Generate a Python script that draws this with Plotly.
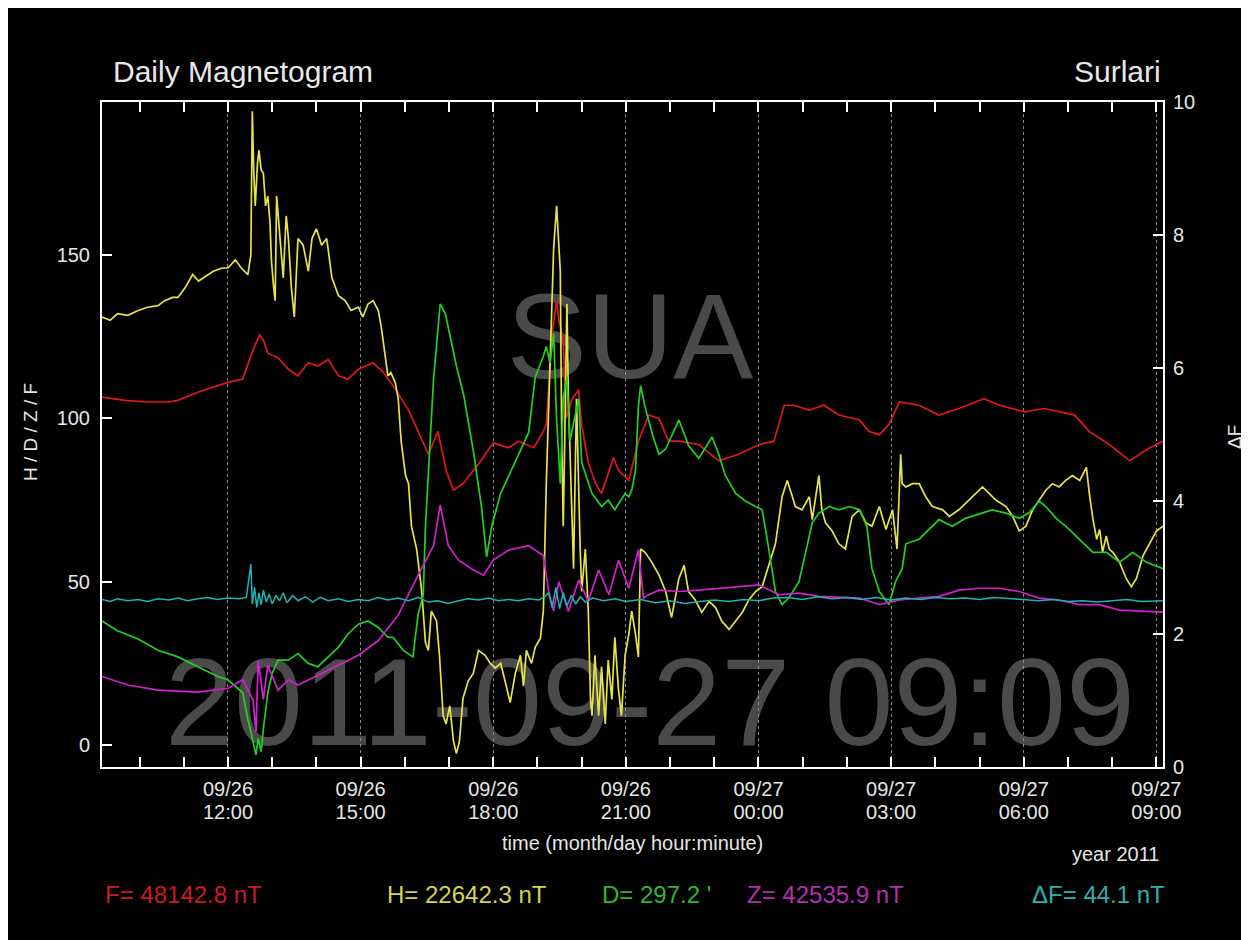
import datetime as dt
import plotly.graph_objects as go

# ---------------- data (time = minutes after 2011-09-26 00:00) ----------------
F_t = [549, 580, 611, 640, 652, 679, 706, 720, 740, 754, 763, 768, 774, 788, 802, 815, 829, 842, 856, 870,
       883, 897, 917, 931, 944, 965, 980, 992, 1005, 1016, 1026, 1039, 1060, 1080, 1101, 1114, 1135, 1148,
       1152, 1160, 1166, 1169, 1175, 1179, 1187, 1196, 1200, 1209, 1219, 1227, 1236, 1243, 1250, 1264, 1277,
       1291, 1305, 1318, 1332, 1359, 1386, 1413, 1441, 1461, 1475, 1488, 1509, 1529, 1549, 1577, 1590, 1604,
       1617, 1631, 1658, 1685, 1712, 1746, 1767, 1801, 1828, 1848, 1869, 1889, 1916, 1944, 1971, 1989]
F_v = [106.5, 105.5, 105, 105, 105.5, 108, 110, 111, 112, 121, 125.5, 124, 120, 118.5, 115, 113, 117, 116,
       118, 113, 112, 115, 117, 114, 110, 102.5, 95, 89, 96, 84, 78, 80, 86, 92.5, 91, 93, 91, 96,
       98, 126, 136, 130, 124, 100, 106, 108.7, 98, 86.5, 80, 77, 83, 88, 84, 81, 93,
       101, 100, 93, 93, 92, 87, 89, 92, 93, 104, 104, 102.5, 104, 101, 99.5, 96, 95,
       98, 105, 104, 101, 103, 106, 104, 102, 103, 102, 101, 96, 92, 87, 91, 93]

H_t = [549, 560, 570, 584, 598, 611, 625, 634, 645, 652, 662, 672, 680, 690, 700, 712, 720, 724, 730, 738,
       747, 751, 753, 755, 757, 760, 762, 765, 768, 771, 774, 777, 779, 782, 784, 786, 790, 795, 799, 802,
       806, 810, 815, 822, 829, 834, 840, 847, 854, 861, 870, 879, 887, 897, 903, 910, 917, 924, 928, 933,
       937, 941, 947, 951, 955, 961, 965, 969, 976, 983, 988, 992, 996, 1003, 1007, 1012, 1016, 1021, 1026,
       1030, 1034, 1039, 1046, 1053, 1060, 1069, 1076, 1083, 1090, 1096, 1103, 1110, 1117, 1121, 1125, 1132,
       1137, 1144, 1148, 1152, 1157, 1162, 1166, 1171, 1173, 1175, 1177, 1180, 1182, 1187, 1189, 1191, 1193,
       1198, 1200, 1205, 1209, 1212, 1214, 1218, 1223, 1227, 1232, 1236, 1241, 1245, 1250, 1254, 1259, 1264,
       1268, 1273, 1277, 1280, 1286, 1295, 1305, 1314, 1322, 1332, 1339, 1345, 1354, 1363, 1373, 1382, 1390,
       1400, 1409, 1418, 1427, 1436, 1445, 1454, 1463, 1472, 1479, 1486, 1490, 1499, 1509, 1513, 1522, 1526,
       1531, 1540, 1549, 1558, 1567, 1577, 1586, 1594, 1604, 1613, 1622, 1628, 1633, 1635, 1640, 1649, 1658,
       1667, 1676, 1690, 1699, 1712, 1726, 1735, 1744, 1753, 1762, 1776, 1785, 1794, 1803, 1812, 1821, 1830,
       1839, 1848, 1857, 1866, 1876, 1885, 1889, 1894, 1899, 1903, 1907, 1912, 1916, 1921, 1930, 1934, 1939,
       1946, 1953, 1962, 1971, 1980, 1989]
H_v = [131, 130, 132, 131.5, 133, 134, 134.5, 136, 137, 137, 140, 144, 142, 143.5, 145, 146, 146, 147, 148.5, 146,
       144, 150, 194, 175, 165, 178, 182, 176, 175, 165, 168, 160, 148, 140, 136, 168, 158, 143, 162, 155,
       140, 131, 155, 153, 145, 155, 158, 153, 155, 143, 137.5, 136, 133, 134, 131, 135, 136, 133, 128, 119,
       113, 114, 111, 106, 93, 82.5, 80, 67, 60, 47, 31.4, 29, 41, 38, 27.5, 9, 6.5, 12, 1.3,
       -2.6, 1, 14.4, 19.6, 22, 29, 27.5, 25, 23.6, 25, 19.6, 13, 22, 27.5, 18, 29, 25,
       30, 32.7, 41, 80, 119, 152, 165, 145, 93, 67, 93, 135, 106, 67, 54, 80, 106,
       60, 47, 60, 41, 14, 9, 27.5, 9, 24, 6.5, 26, 14, 33, 17, 9, 27.5, 34,
       41, 34, 27, 60, 59, 56, 52, 47, 39, 51, 55, 47, 44.5, 40.6, 44, 42, 38,
       35.4, 38, 40.6, 44.5, 47, 48.5, 55, 61.6, 76, 81, 76, 73, 72, 76, 69, 82.5, 72,
       68, 65.5, 61.6, 60, 70, 72, 68, 67, 73, 66, 72, 60, 89, 80, 79, 80, 80,
       76, 73, 72, 70, 72, 75, 77, 79, 77, 75, 73, 70, 65.5, 67, 72, 75, 78,
       80, 79, 81, 82.5, 81, 85, 77, 69, 63, 66, 59, 64, 60, 59, 56, 54, 51,
       48.5, 51, 58, 61.6, 65.5, 67]

D_t = [549, 570, 598, 625, 652, 679, 706, 720, 740, 747, 754, 758, 761, 765, 768, 774, 780, 788, 802, 815,
       829, 842, 856, 870, 883, 897, 910, 924, 937, 944, 958, 971, 978, 985, 988, 999, 1008, 1015, 1030, 1040,
       1053, 1064, 1071, 1078, 1090, 1101, 1114, 1128, 1137, 1148, 1152, 1157, 1162, 1166, 1171, 1175, 1180,
       1184, 1196, 1200, 1214, 1227, 1236, 1245, 1259, 1264, 1268, 1273, 1277, 1280, 1286, 1297, 1305, 1314,
       1332, 1345, 1359, 1377, 1386, 1395, 1409, 1422, 1436, 1445, 1454, 1463, 1472, 1481, 1495, 1504, 1513,
       1522, 1536, 1549, 1563, 1577, 1587, 1594, 1604, 1617, 1626, 1635, 1640, 1658, 1676, 1685, 1703, 1721,
       1739, 1757, 1776, 1794, 1807, 1821, 1830, 1844, 1857, 1876, 1894, 1912, 1930, 1948, 1966, 1989]
D_v = [38, 35, 32.5, 29, 27, 24, 21, 20, 16, 8, 1, -3, 2, -2, 5, 16, 22, 26, 26, 28,
       25, 24, 27, 30, 34, 37, 38, 36, 33, 33, 29, 27, 40, 46, 67, 112, 135, 132, 116, 107,
       90, 73, 57.6, 67, 77, 82.5, 89, 95.6, 112.6, 119, 122, 117, 126, 99.5, 80, 106, 112.6,
       93, 106, 86.5, 77, 73, 75, 72, 77, 76, 78, 84, 103.5, 110, 103.5, 94.3, 89, 90.6,
       99.5, 91.7, 87.8, 94.3, 89, 82.5, 77, 74.7, 73, 72, 60, 47, 43, 45, 50, 59, 68,
       71, 73, 72, 73, 72, 67, 54, 47, 43, 50, 54, 61.6, 63, 67, 69, 67, 69.4,
       70.7, 72, 71, 69.4, 71, 74.7, 73, 69.4, 67, 63, 59, 59, 56, 59, 56, 54]

Z_t = [549, 584, 625, 679, 720, 740, 754, 758, 761, 768, 774, 788, 802, 815, 842, 870, 897, 924, 951, 978,
       999, 1008, 1019, 1033, 1053, 1067, 1080, 1101, 1128, 1148, 1155, 1162, 1169, 1182, 1196, 1209, 1223,
       1237, 1250, 1264, 1277, 1284, 1291, 1305, 1332, 1359, 1386, 1413, 1441, 1468, 1495, 1522, 1549, 1577,
       1604, 1631, 1658, 1685, 1712, 1740, 1767, 1794, 1821, 1848, 1876, 1903, 1930, 1957, 1989]
Z_v = [21, 18.4, 16.8, 16.2, 17.4, 20, 13.8, 4, 26, 14, 24.5, 16.8, 20, 18.4, 21.4, 24.5, 27.5, 32, 39.8, 52,
       61, 73.5, 61, 56.6, 53.6, 52, 56.6, 59.7, 61, 58, 47.4, 41, 50, 41, 50.5, 44, 53.6,
       46, 56.6, 48, 59.7, 45, 46, 47.4, 47, 47.4, 48, 48.5, 49, 46, 46.5, 45.5, 45.3, 45,
       43, 44.4, 45, 45.5, 47.4, 48, 48, 47, 45, 44.4, 43, 43, 41.3, 41, 40.7]

dF_t = [549, 560, 570, 584, 598, 611, 625, 640, 652, 665, 679, 692, 706, 720, 735, 745, 751, 753, 756, 759,
        762, 765, 768, 772, 776, 780, 785, 790, 795, 800, 808, 815, 825, 835, 845, 856, 870, 883, 897, 910,
        924, 937, 951, 965, 978, 992, 1005, 1019, 1033, 1046, 1060, 1074, 1087, 1101, 1114, 1128, 1142, 1150,
        1155, 1160, 1165, 1170, 1175, 1180, 1186, 1192, 1198, 1205, 1215, 1230, 1245, 1260, 1280, 1300, 1320,
        1340, 1360, 1380, 1400, 1420, 1440, 1460, 1480, 1500, 1520, 1540, 1560, 1580, 1600, 1620, 1640, 1660,
        1680, 1700, 1720, 1740, 1760, 1780, 1800, 1820, 1840, 1860, 1880, 1900, 1920, 1940, 1960, 1989]
dF_v = [2.52, 2.49, 2.53, 2.50, 2.52, 2.49, 2.53, 2.51, 2.54, 2.50, 2.53, 2.55, 2.52, 2.54, 2.53, 2.55, 3.05,
        2.45, 2.70, 2.40, 2.62, 2.44, 2.66, 2.48, 2.60, 2.45, 2.58, 2.50, 2.62, 2.47, 2.58, 2.50, 2.56, 2.48,
        2.55, 2.50, 2.53, 2.49, 2.52, 2.50, 2.55, 2.51, 2.54, 2.50, 2.55, 2.48, 2.50, 2.46, 2.50, 2.53, 2.51,
        2.54, 2.50, 2.52, 2.50, 2.53, 2.51, 2.56, 2.62, 2.40, 2.70, 2.38, 2.62, 2.42, 2.58, 2.45, 2.56, 2.48,
        2.54, 2.50, 2.53, 2.49, 2.52, 2.47, 2.50, 2.46, 2.49, 2.51, 2.49, 2.52, 2.50, 2.54, 2.55, 2.52, 2.56,
        2.53, 2.55, 2.52, 2.55, 2.51, 2.54, 2.52, 2.55, 2.53, 2.54, 2.52, 2.55, 2.53, 2.51, 2.50, 2.52, 2.49,
        2.50, 2.48, 2.50, 2.52, 2.49, 2.50]

tick_times = ["2011-09-26 12:00", "2011-09-26 15:00", "2011-09-26 18:00", "2011-09-26 21:00",
              "2011-09-27 00:00", "2011-09-27 03:00", "2011-09-27 06:00", "2011-09-27 09:00"]
tick_dates = ["09/26", "09/26", "09/26", "09/26", "09/27", "09/27", "09/27", "09/27"]
tick_hours = ["12:00", "15:00", "18:00", "21:00", "00:00", "03:00", "06:00", "09:00"]
x_range = ["2011-09-26 09:09", "2011-09-27 09:09"]
y_range = [-6.7, 196.8]
y2_range = [0, 10]
legend_texts = ["F= 48142.8 nT", "H= 22642.3 nT", "D= 297.2 '", "Z= 42535.9 nT", "ΔF= 44.1 nT"]

base = dt.datetime(2011, 9, 26)


def to_time(mins):
    return [base + dt.timedelta(minutes=m) for m in mins]


FONT = "Liberation Sans"
C_F, C_H, C_D, C_Z, C_dF = "#e01818", "#e6e44a", "#22d022", "#d020d0", "#1fb4b4"

fig = go.Figure()
fig.add_trace(go.Scatter(x=to_time(F_t), y=F_v, mode="lines", line=dict(color=C_F, width=1.7)))
fig.add_trace(go.Scatter(x=to_time(H_t), y=H_v, mode="lines", line=dict(color=C_H, width=1.7)))
fig.add_trace(go.Scatter(x=to_time(D_t), y=D_v, mode="lines", line=dict(color=C_D, width=1.7)))
fig.add_trace(go.Scatter(x=to_time(Z_t), y=Z_v, mode="lines", line=dict(color=C_Z, width=1.7)))
fig.add_trace(go.Scatter(x=to_time(dF_t), y=dF_v, mode="lines", line=dict(color=C_dF, width=1.5),
                         yaxis="y2"))

# the page body adds an 8px margin; figure sized to fill the rest of the window
OFF = 8
W, H = 1249 - OFF, 940 - OFF
PL, PR, PT, PB = 102, 1163, 102, 767          # plot area in window pixels
L, T = PL - OFF, PT - OFF
R, B = 1249 - PR, 940 - PB
pw, ph = PR - PL, PB - PT


def px(x):
    return (x - PL) / pw


def py(y):
    return (PB - y) / ph


tickfont = dict(family=FONT, size=20, color="#e6e6e6")

fig.update_layout(
    width=W, height=H,
    margin=dict(l=L, r=R, t=T, b=B, autoexpand=False),
    paper_bgcolor="black", plot_bgcolor="black",
    showlegend=False,
    xaxis=dict(type="date", range=x_range, tickmode="array", tickvals=tick_times, ticktext=tick_dates,
               ticks="inside", ticklen=10, tickcolor="white", tickwidth=1.5,
               showline=True, linecolor="white", linewidth=2, mirror="allticks",
               showgrid=True, gridcolor="#8a8a8a", griddash="dot", gridwidth=1,
               tickfont=tickfont, zeroline=False, ticklabelstandoff=3,
               minor=dict(tickmode="linear", tick0="2011-09-26 00:00", dtick=3600000,
                          ticks="inside", ticklen=5, tickcolor="white", showgrid=False)),
    xaxis3=dict(type="date", matches="x", overlaying="x", anchor="y", side="bottom",
                tickmode="array", tickvals=tick_times, ticktext=tick_hours,
                ticks="", showline=False, showgrid=False, zeroline=False,
                tickfont=tickfont, ticklabelstandoff=31),
    yaxis=dict(range=y_range, tickmode="array", tickvals=[0, 50, 100, 150],
               ticks="inside", ticklen=10, tickcolor="white", tickwidth=1.5,
               showline=True, linecolor="white", linewidth=2, mirror=False,
               showgrid=False, zeroline=False, tickfont=tickfont, ticklabelstandoff=6),
    yaxis2=dict(range=y2_range, overlaying="y", side="right", tickmode="linear", dtick=2, tick0=0,
                ticks="inside", ticklen=10, tickcolor="white", tickwidth=1.5,
                showline=True, linecolor="white", linewidth=2,
                showgrid=False, zeroline=False, tickfont=tickfont, ticklabelstandoff=4),
)
# invisible helper trace so the second (hour) axis is drawn
fig.add_trace(go.Scatter(x=[], y=[], xaxis="x3", yaxis="y", showlegend=False, hoverinfo="skip"))

shapes = [
    dict(type="rect", xref="paper", yref="paper", x0=px(300), x1=px(960), y0=py(390), y1=py(260),
         line=dict(width=0), fillcolor="rgba(0,0,0,0)", layer="below",
         label=dict(text="SUA", font=dict(family=FONT, size=120, color="#4a4a4a"),
                    textposition="middle center")),
    dict(type="rect", xref="paper", yref="paper", x0=px(110), x1=px(1190), y0=py(755), y1=py(625),
         line=dict(width=0), fillcolor="rgba(0,0,0,0)", layer="below",
         label=dict(text="2011-09-27 09:09", font=dict(family=FONT, size=124, color="#4a4a4a"),
                    textposition="middle center")),
]
fig.update_layout(shapes=shapes)

ann = []
ann.append(dict(text="Daily Magnetogram", x=px(111), y=py(72), xanchor="left", yanchor="middle",
                font=dict(family=FONT, size=30, color="#e8e8e8")))
ann.append(dict(text="Surlari", x=px(1163), y=py(72), xanchor="right", yanchor="middle",
                font=dict(family=FONT, size=30, color="#e8e8e8")))
ann.append(dict(text="time (month/day hour:minute)", x=px(632), y=py(843), xanchor="center", yanchor="middle",
                font=dict(family=FONT, size=20, color="#e6e6e6")))
ann.append(dict(text="year 2011", x=px(1161), y=py(854), xanchor="right", yanchor="middle",
                font=dict(family=FONT, size=20, color="#e6e6e6")))
ann.append(dict(text="H / D / Z / F", x=px(30), y=py(432), xanchor="center", yanchor="middle", textangle=-90,
                font=dict(family=FONT, size=19, color="#e6e6e6")))
ann.append(dict(text="ΔF", x=px(1234), y=py(437), xanchor="center", yanchor="middle", textangle=-90,
                font=dict(family=FONT, size=19, color="#e6e6e6")))

leg_x = [103, 385, 600, 745, 1030]
leg_c = ["#cc1a24", "#d6d44a", "#2cb82c", "#b42cb4", "#2cb0b0"]
for txt, xx, cc in zip(legend_texts, leg_x, leg_c):
    ann.append(dict(text=txt, x=px(xx), y=py(895), xanchor="left", yanchor="middle",
                    font=dict(family=FONT, size=24, color=cc)))
for a in ann:
    a.update(xref="paper", yref="paper", showarrow=False)
fig.update_layout(annotations=ann)

fig.write_html("out.html")
